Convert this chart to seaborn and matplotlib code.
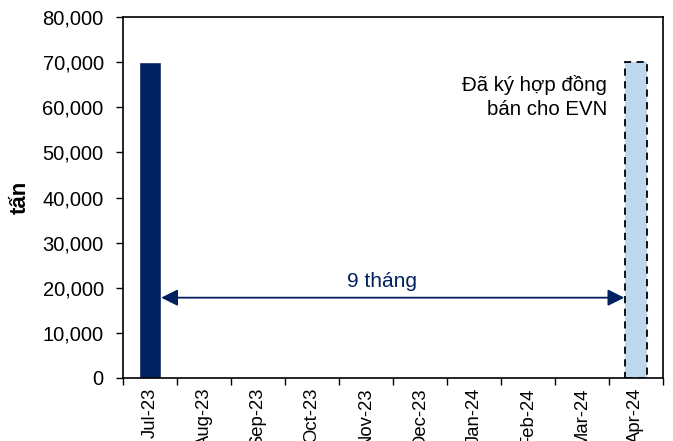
import numpy as np
import pandas as pd
import matplotlib
matplotlib.use("Agg")
import matplotlib.pyplot as plt
import seaborn as sns
from matplotlib.ticker import FuncFormatter

months = ["Jul-23", "Aug-23", "Sep-23", "Oct-23", "Nov-23", "Dec-23",
          "Jan-24", "Feb-24", "Mar-24", "Apr-24"]
tonnes = [70000, 0, 0, 0, 0, 0, 0, 0, 0, 70000]
bar_colors = ["#002060"] + ["#002060"] * 8 + ["#BDD7EE"]
arrow_level = 17800
gap_label = "9 tháng"
note_lines = ["Đã ký hợp đồng", "bán cho EVN"]

sns.set_theme(style="white")
plt.rcParams["font.family"] = ["Liberation Sans", "DejaVu Sans"]
plt.rcParams["text.color"] = "black"
plt.rcParams["xtick.color"] = "black"
plt.rcParams["ytick.color"] = "black"
plt.rcParams["axes.labelcolor"] = "black"

df = pd.DataFrame({"month": months, "tonnes": tonnes})

fig = plt.figure(figsize=(6.73, 4.41), dpi=100)
ax = fig.add_axes([0.183, 0.143, 0.802, 0.818])

sns.barplot(data=df, x="month", y="tonnes", hue="month", palette=bar_colors,
            order=months, width=0.41, legend=False, ax=ax, saturation=1)

# planned shipment bar: dashed outline
last = ax.patches[-1]
last.set_edgecolor("black")
last.set_linestyle((0, (4, 3)))
last.set_linewidth(1.3)

ax.set_ylim(0, 80000)
ax.set_xlim(-0.5, len(months) - 0.5)
ax.set_yticks(np.arange(0, 80001, 10000))
ax.yaxis.set_major_formatter(FuncFormatter(lambda v, p: f"{v:,.0f}"))

# category boundaries as major ticks, labels on minor ticks at centers
ax.set_xticks(np.arange(-0.5, len(months), 1))
ax.set_xticklabels([])
ax.set_xticks(np.arange(len(months)), minor=True)
ax.set_xticklabels(months, minor=True, rotation=90, fontsize=13.3)
ax.tick_params(axis="x", which="major", direction="out", length=5, width=1, bottom=True)
ax.tick_params(axis="x", which="minor", length=0, pad=7)
ax.tick_params(axis="y", direction="out", length=5, width=1, left=True, labelsize=14.5, pad=9)

for s in ax.spines.values():
    s.set_color("black")
    s.set_linewidth(1.2)

ax.set_xlabel("")
ax.set_ylabel("tấn", fontsize=16, fontweight="bold")
ax.yaxis.set_label_coords(-0.171, 0.5)

# 9-month gap arrow between the two bars
ax.annotate("", xy=(0.205, arrow_level), xytext=(len(months) - 1 - 0.215, arrow_level),
            arrowprops=dict(arrowstyle="<|-|>", color="#002060", lw=1.3,
                            mutation_scale=25, shrinkA=0, shrinkB=0))
ax.text(4.3, 20200, gap_label, ha="center", va="baseline",
        fontsize=15, color="#002060")

ax.text(8.46, 63670, note_lines[0], ha="right", va="baseline", fontsize=14.7)
ax.text(8.46, 58280, note_lines[1], ha="right", va="baseline", fontsize=14.7)

fig.savefig("out.png", dpi=100)
